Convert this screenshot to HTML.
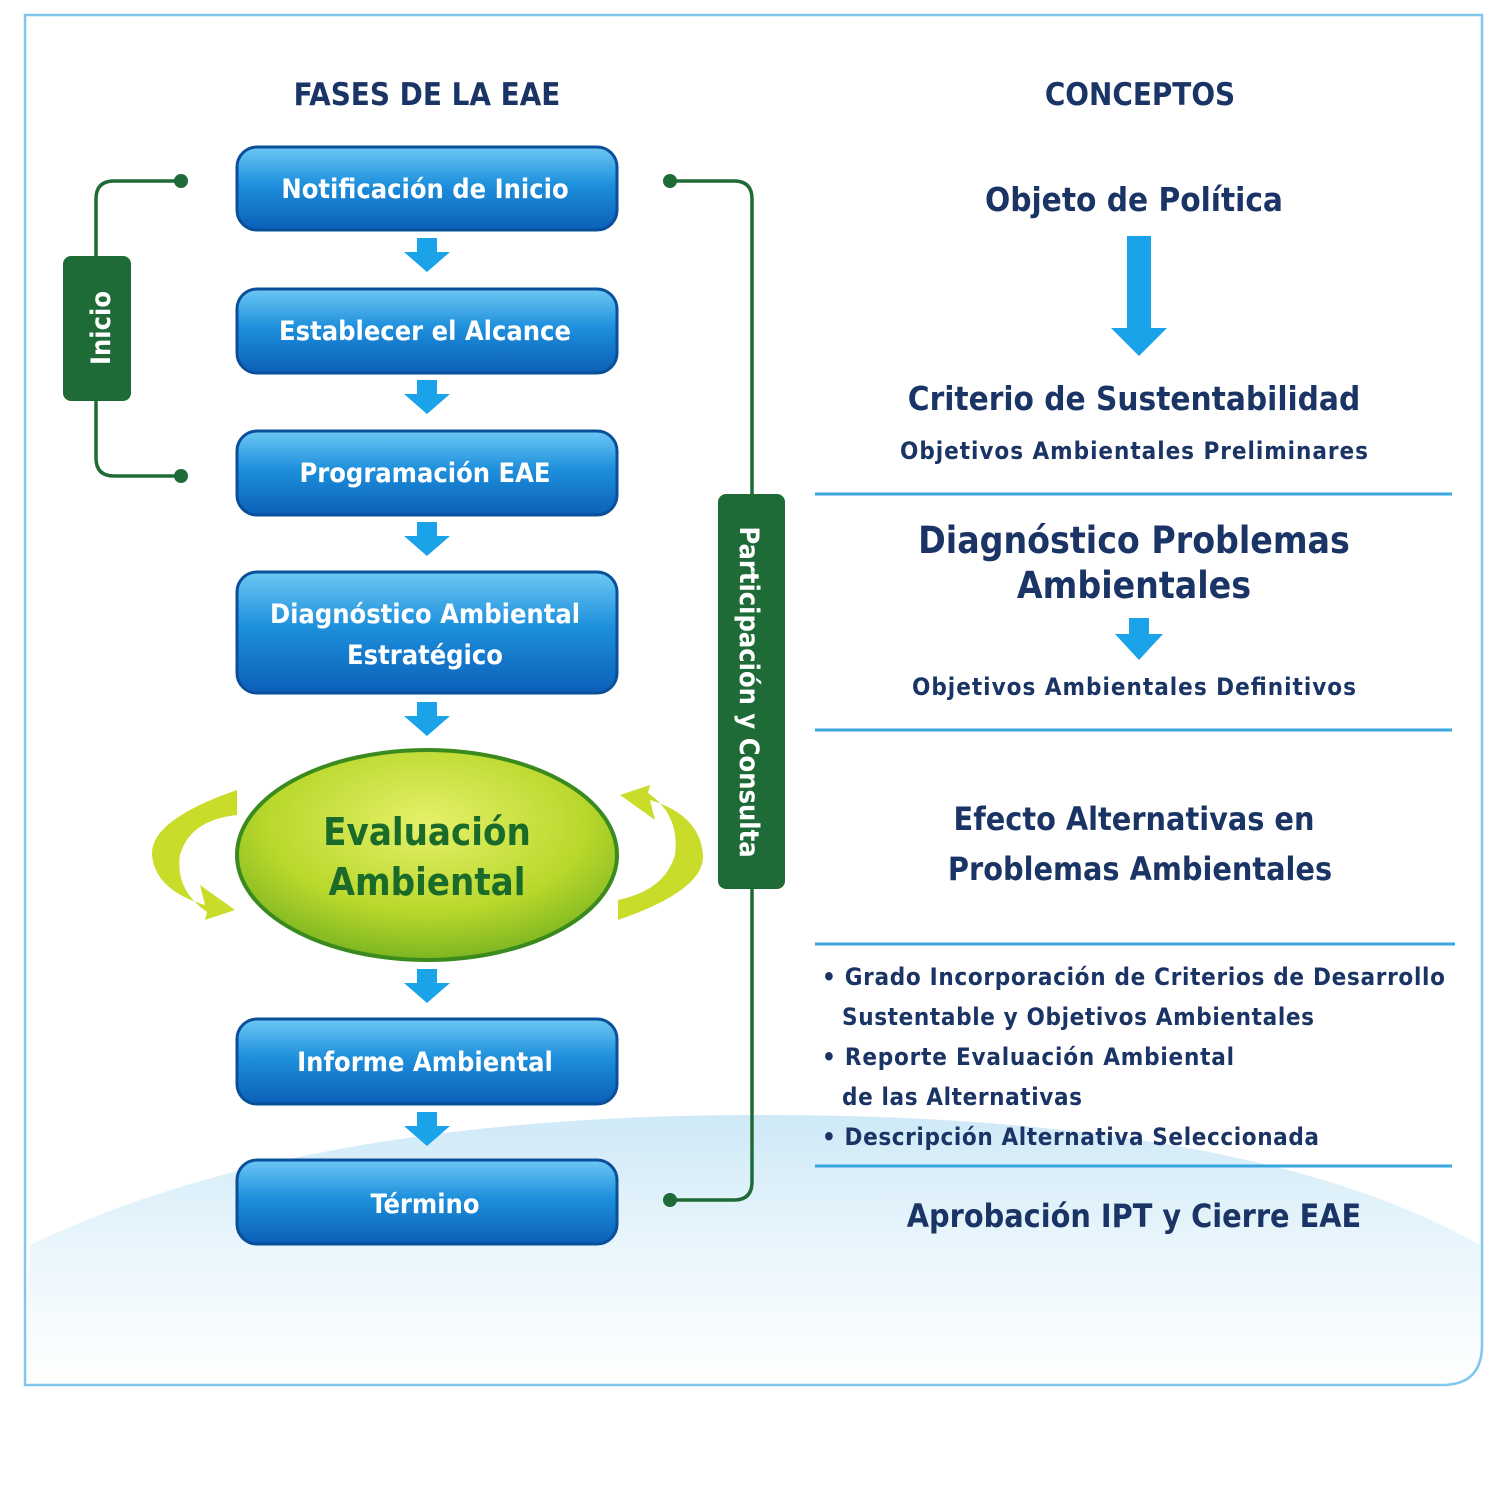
<!DOCTYPE html>
<html><head><meta charset="utf-8"><style>
body{margin:0;background:#fff}
svg text{font-family:"DejaVu Sans Condensed","Liberation Sans",sans-serif;font-weight:bold}
</style></head><body>
<svg width="1500" height="1500" viewBox="0 0 1500 1500" xmlns="http://www.w3.org/2000/svg">
<defs>
<linearGradient id="bx" x1="0" y1="0" x2="0" y2="1">
<stop offset="0" stop-color="#6cc8f4"/><stop offset="0.45" stop-color="#1e90dc"/><stop offset="1" stop-color="#0b5fb8"/></linearGradient>
<radialGradient id="el" cx="0.5" cy="0.35" r="0.7">
<stop offset="0" stop-color="#e6f06a"/><stop offset="0.6" stop-color="#b9d82c"/><stop offset="1" stop-color="#6fae1e"/></radialGradient>
<linearGradient id="wave" x1="0" y1="0" x2="0" y2="1">
<stop offset="0" stop-color="#cfe9f7"/><stop offset="0.5" stop-color="#eaf6fc"/><stop offset="1" stop-color="#fff"/></linearGradient>
</defs>
<path d="M30 1245 Q300 1115 760 1115 Q1250 1115 1480 1245 L1480 1385 L25 1385 Z" fill="url(#wave)"/>
<path d="M25 15 L1482 15 L1482 1345 Q1482 1385 1442 1385 L25 1385 Z" fill="none" stroke="#7fc8ee" stroke-width="2.5"/>
<text x="427" y="105" text-anchor="middle" font-size="31" fill="#1a3466">FASES DE LA EAE</text>
<text x="1140" y="105" text-anchor="middle" font-size="31" fill="#1a3466">CONCEPTOS</text>
<g fill="none" stroke="#1e6b38" stroke-width="3.5">
<path d="M181 181 H114 Q96 181 96 199 V458 Q96 476 114 476 H181"/>
<path d="M670 181 H734 Q752 181 752 199 V1182 Q752 1200 734 1200 H670"/>
</g>
<g fill="#1e6b38"><circle cx="181" cy="181" r="7"/><circle cx="181" cy="476" r="7"/><circle cx="670" cy="181" r="7"/><circle cx="670" cy="1200" r="7"/>
<rect x="63" y="256" width="68" height="145" rx="8"/><rect x="718" y="494" width="67" height="395" rx="8"/></g>
<text transform="translate(110,328) rotate(-90)" text-anchor="middle" font-size="27" fill="#fff">Inicio</text>
<text transform="translate(740,692) rotate(90)" text-anchor="middle" font-size="27" fill="#fff">Participación y Consulta</text>
<g stroke="#0a4f99" stroke-width="3" fill="url(#bx)">
<rect x="237" y="147" width="380" height="83" rx="20"/>
<rect x="237" y="289" width="380" height="84" rx="20"/>
<rect x="237" y="431" width="380" height="84" rx="20"/>
<rect x="237" y="572" width="380" height="121" rx="20"/>
<rect x="237" y="1019" width="380" height="85" rx="20"/>
<rect x="237" y="1160" width="380" height="84" rx="20"/>
</g>
<g font-size="27" fill="#fff" text-anchor="middle">
<text x="425" y="198">Notificación de Inicio</text>
<text x="425" y="340">Establecer el Alcance</text>
<text x="425" y="482">Programación EAE</text>
<text x="425" y="623">Diagnóstico Ambiental</text>
<text x="425" y="664">Estratégico</text>
<text x="425" y="1071">Informe Ambiental</text>
<text x="425" y="1213">Término</text>
</g>
<g fill="#1aa3e8">
<path d="M417 238h20v14h13l-23 20-23-20h13z"/>
<path d="M417 380h20v14h13l-23 20-23-20h13z"/>
<path d="M417 522h20v14h13l-23 20-23-20h13z"/>
<path d="M417 702h20v14h13l-23 20-23-20h13z"/>
<path d="M417 969h20v14h13l-23 20-23-20h13z"/>
<path d="M417 1112h20v14h13l-23 20-23-20h13z"/>
<path d="M1127 236h24v92h16l-28 28-28-28h16z"/>
<path d="M1129 618h20v16h14l-24 26-24-26h14z"/>
</g>
<g fill="#c9dc2a">
<path d="M237 790 Q150 820 152 855 Q155 890 205 905 L200 885 L235 910 L205 920 L207 912 Q175 890 180 855 Q190 820 237 815 Z"/>
<path d="M618 920 Q705 890 703 855 Q700 815 650 800 L655 820 L620 795 L650 785 L648 793 Q680 815 675 855 Q665 890 618 900 Z"/>
</g>
<ellipse cx="427" cy="855" rx="190" ry="105" fill="url(#el)" stroke="#3a8a1e" stroke-width="4"/>
<g font-size="38" fill="#1a6a2a" text-anchor="middle" font-weight="bold">
<text x="427" y="845">Evaluación</text>
<text x="427" y="895">Ambiental</text>
</g>
<g fill="#1a3466" text-anchor="middle">
<text x="1134" y="211" font-size="33">Objeto de Política</text>
<text x="1134" y="410" font-size="33">Criterio de Sustentabilidad</text>
<text x="1134" y="459" font-size="24" textLength="468" lengthAdjust="spacing">Objetivos Ambientales Preliminares</text>
<text x="1134" y="553" font-size="37">Diagnóstico Problemas</text>
<text x="1134" y="598" font-size="37">Ambientales</text>
<text x="1134" y="695" font-size="24" textLength="444" lengthAdjust="spacing">Objetivos Ambientales Definitivos</text>
<text x="1134" y="830" font-size="32">Efecto Alternativas en</text>
<text x="1140" y="880" font-size="32">Problemas Ambientales</text>
<text x="1134" y="1227" font-size="32">Aprobación IPT y Cierre EAE</text>
</g>
<g fill="#1a3466" font-size="24">
<text x="822" y="985" textLength="623" lengthAdjust="spacing">• Grado Incorporación de Criterios de Desarrollo</text>
<text x="842" y="1025" textLength="472" lengthAdjust="spacing">Sustentable y Objetivos Ambientales</text>
<text x="822" y="1065" textLength="412" lengthAdjust="spacing">• Reporte Evaluación Ambiental</text>
<text x="842" y="1105" textLength="240" lengthAdjust="spacing">de las Alternativas</text>
<text x="822" y="1145" textLength="497" lengthAdjust="spacing">• Descripción Alternativa Seleccionada</text>
</g>
<g stroke="#3aa6e0" stroke-width="3">
<line x1="815" y1="494" x2="1452" y2="494"/><line x1="815" y1="730" x2="1452" y2="730"/>
<line x1="815" y1="944" x2="1455" y2="944"/><line x1="815" y1="1166" x2="1452" y2="1166"/>
</g>
</svg>
</body></html>
